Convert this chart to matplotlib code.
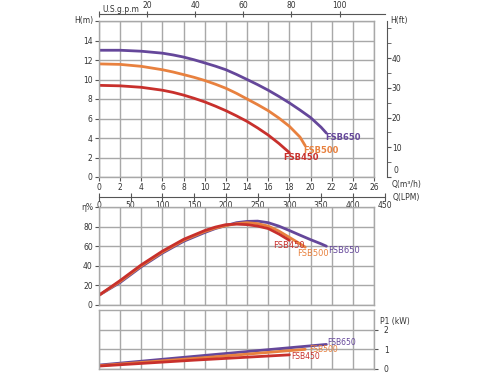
import matplotlib
matplotlib.use("Agg")
import matplotlib.pyplot as plt
from matplotlib.ticker import MultipleLocator

# pump data (flow in m3/h)
models = ["FSB650", "FSB500", "FSB450"]
colors = {"FSB450": "#c8302c", "FSB500": "#e8813f", "FSB650": "#65479a"}

head_q = {
    "FSB450": [0, 2, 4, 6, 7, 8, 9, 10, 11, 12, 13, 14, 15, 16, 17, 18],
    "FSB500": [0, 2, 4, 6, 7, 8, 9, 10, 11, 12, 13, 14, 15, 16, 17, 18, 19, 19.5],
    "FSB650": [0, 2, 4, 6, 7, 8, 9, 10, 11, 12, 13, 14, 15, 16, 17, 18, 19, 20, 21, 21.5],
}
head_m = {
    "FSB450": [9.4, 9.35, 9.2, 8.9, 8.68, 8.4, 8.07, 7.7, 7.27, 6.8, 6.27, 5.7, 5.03, 4.3, 3.45, 2.5],
    "FSB500": [11.6, 11.55, 11.35, 11.0, 10.77, 10.5, 10.22, 9.9, 9.52, 9.1, 8.58, 8.0, 7.42, 6.8, 6.05, 5.2, 4.1, 3.2],
    "FSB650": [13.0, 13.0, 12.9, 12.7, 12.52, 12.3, 12.02, 11.7, 11.37, 11.0, 10.52, 10.0, 9.47, 8.9, 8.27, 7.6, 6.87, 6.1, 5.1, 4.5],
}

eff_q = {
    "FSB450": [0, 2, 4, 6, 8, 10, 11, 12, 13, 14, 15, 16, 17, 18],
    "FSB500": [0, 2, 4, 6, 8, 10, 11, 12, 13, 14, 15, 16, 17, 18, 19, 19.5],
    "FSB650": [0, 2, 4, 6, 8, 10, 11, 12, 13, 14, 15, 16, 17, 18, 19, 20, 21, 21.5],
}
eff_pct = {
    "FSB450": [10, 25, 41, 55, 67, 76, 79.5, 82, 82.5, 82, 80.5, 78, 72.5, 66],
    "FSB500": [10, 24, 40, 54, 66, 75, 78.5, 81, 83, 84, 83, 80.5, 75.5, 69, 62.5, 59],
    "FSB650": [10, 23, 39, 53, 65, 74, 78, 81, 84, 85.3, 85.6, 84, 80.5, 76, 71.3, 66.7, 62.4, 60],
}

power_q = {
    "FSB450": [0, 9, 18],
    "FSB500": [0, 10, 19.5],
    "FSB650": [0, 11, 21.5],
}
power_kw = {
    "FSB450": [0.15, 0.45, 0.72],
    "FSB500": [0.17, 0.58, 1.0],
    "FSB650": [0.2, 0.74, 1.25],
}

# label positions (m3/h, value)
head_lbl = {"FSB450": (17.4, 2.0), "FSB500": (19.3, 2.75), "FSB650": (21.4, 4.0)}
eff_lbl = {"FSB450": (16.5, 61), "FSB500": (18.7, 53), "FSB650": (21.7, 56)}
pow_lbl = {"FSB450": (18.2, 0.64), "FSB500": (19.9, 1.0), "FSB650": (21.6, 1.36)}

GRID = "#a8a8a8"
TXT = "#333333"
plt.rcParams["font.family"] = ["DejaVu Sans"]
plt.rcParams["font.size"] = 5.5
plt.rcParams["text.color"] = TXT
plt.rcParams["xtick.color"] = "#555555"
plt.rcParams["ytick.color"] = "#555555"
plt.rcParams["xtick.labelcolor"] = TXT
plt.rcParams["ytick.labelcolor"] = TXT
plt.rcParams["xtick.major.size"] = 3
plt.rcParams["ytick.major.size"] = 3

W, H = 500, 375
fig = plt.figure(figsize=(5, 3.75), dpi=100)


def box(x0, y0, x1, y1):
    return [x0 / W, 1 - y1 / H, (x1 - x0) / W, (y1 - y0) / H]


def style(ax):
    for s in ax.spines.values():
        s.set_color(GRID)
        s.set_linewidth(1)
    ax.grid(True, color=GRID, lw=1)
    ax.set_axisbelow(True)
    ax.set_xlim(0, 26)
    ax.xaxis.set_major_locator(MultipleLocator(2))


# head chart
ax1 = fig.add_axes(box(99, 21, 374, 177))
style(ax1)
ax1.set_ylim(0, 16)
ax1.set_yticks(range(0, 17, 2))
ax1.set_yticklabels([str(v) for v in range(0, 15, 2)] + [""])
ax1.tick_params(axis="x", pad=1.5)
ax1.tick_params(axis="y", pad=1.5)
for m in models:
    ax1.plot(head_q[m], head_m[m], color=colors[m], lw=2, solid_capstyle="round")
    x, y = head_lbl[m]
    ax1.text(x, y, m, color=colors[m], fontsize=6, fontweight="bold", va="center", ha="left")
ax1.text(1 + 18 / 275, -0.045, "Q(m\u00b3/h)", transform=ax1.transAxes, ha="left", va="center")

ax1.text(-0.5, 16, "H(m)", ha="right", va="center")

# right H(ft) axis
axft = ax1.secondary_yaxis(1 + 13 / 275, functions=(lambda m: m * 3.2808, lambda f: f / 3.2808))
axft.set_yticks([0, 10, 20, 30, 40])
axft.set_yticklabels(["", "10", "20", "30", "40"])
axft.yaxis.set_minor_locator(MultipleLocator(5))
axft.tick_params(axis="y", which="minor", length=3, color="#555555")
axft.tick_params(axis="y", pad=0.5)
axft.spines["right"].set_color("#555555")
ax1.text(1 + 19 / 275, 0.012, "0", transform=ax1.transAxes, ha="left", va="bottom")
ax1.text(1 + 16 / 275, 1.0, "H(ft)", transform=ax1.transAxes, ha="left", va="center")

# top US gpm axis
axg = fig.add_axes(box(99, 14, 385, 14.01))
axg.set_xlim(0, 27 * 4.403)
axg.set_ylim(0, 1)
for s in ["left", "right", "bottom"]:
    axg.spines[s].set_visible(False)
axg.spines["top"].set_color("#555555")
axg.set_yticks([])
axg.xaxis.tick_top()
axg.set_xticks([0, 20, 40, 60, 80, 100])
axg.set_xticklabels(["", "20", "40", "60", "80", "100"])
axg.tick_params(axis="x", direction="inout", length=5, pad=0.5)
axg.text(1.5, 2.5, "U.S.g.p.m", va="bottom", ha="left", transform=axg.transData, clip_on=False)

# LPM axis
axl = fig.add_axes(box(99, 197, 384.6, 197.01))
axl.set_xlim(0, 450)
axl.set_ylim(0, 1)
for s in ["left", "right", "top"]:
    axl.spines[s].set_visible(False)
axl.spines["bottom"].set_color("#555555")
axl.set_yticks([])
axl.set_xticks(range(0, 451, 50))
axl.tick_params(axis="x", direction="inout", length=6, pad=0)
axl.text(463, 0, "Q(LPM)", ha="left", va="center", clip_on=False)

# efficiency chart
ax2 = fig.add_axes(box(99, 207, 374, 305))
style(ax2)
ax2.set_ylim(0, 100)
ax2.set_yticks(range(0, 101, 20))
ax2.set_yticklabels(["0", "20", "40", "60", "80", ""])
ax2.tick_params(axis="x", labelbottom=False, length=0)
ax2.tick_params(axis="y", pad=1.5)
for m in models:
    ax2.plot(eff_q[m], eff_pct[m], color=colors[m], lw=2, solid_capstyle="round")
    x, y = eff_lbl[m]
    ax2.text(x, y, m, color=colors[m], fontsize=6, va="center", ha="left")
ax2.text(-0.5, 100, "\u03b7%", ha="right", va="center")

# power chart
ax3 = fig.add_axes(box(99, 310, 374, 369))
style(ax3)
ax3.set_ylim(0, 3)
ax3.set_yticks([0, 1, 2])
ax3.yaxis.tick_right()
ax3.tick_params(axis="x", labelbottom=False, length=0)
ax3.tick_params(axis="y", pad=4)
for m in models:
    ax3.plot(power_q[m], power_kw[m], color=colors[m], lw=2, solid_capstyle="round")
    x, y = pow_lbl[m]
    ax3.text(x, y, m, color=colors[m], fontsize=5.5, va="center", ha="left")
ax3.text(1.02, 0.8, "P1 (kW)", transform=ax3.transAxes, ha="left", va="center")

fig.savefig("out.png", dpi=100)
